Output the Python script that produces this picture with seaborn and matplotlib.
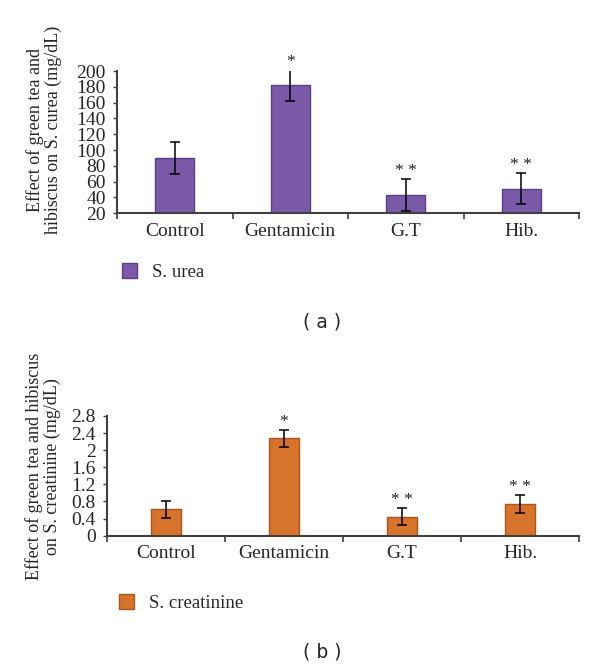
import matplotlib
matplotlib.use("Agg")
import matplotlib.pyplot as plt
import seaborn as sns
import pandas as pd
from matplotlib.patches import Patch

# ---- data ----
categories = ["Control", "Gentamicin", "G.T", "Hib."]
urea_values = [90, 182, 43, 51]
urea_errors = [20, 20, 20, 20]
urea_marks = ["", "*", "* *", "* *"]
creat_values = [0.62, 2.28, 0.44, 0.74]
creat_errors = [0.2, 0.2, 0.2, 0.2]
creat_marks = ["", "*", "* *", "* *"]
urea_ticks = [20, 40, 60, 80, 100, 120, 140, 160, 180, 200]
creat_ticks = [0, 0.4, 0.8, 1.2, 1.6, 2, 2.4, 2.8]
creat_ticklabels = ["0", "0.4", "0.8", "1.2", "1.6", "2", "2.4", "2.8"]

sns.set_theme(style="white")
plt.rcParams["font.family"] = ["Liberation Serif", "DejaVu Serif"]

PURPLE = "#7A5AA8"
PURPLE_EDGE = "#5B3E8A"
ORANGE = "#D8732B"
ORANGE_EDGE = "#A9561C"
SPINE = "#404040"

fig = plt.figure(figsize=(6.0, 6.66), dpi=100)
ax1 = fig.add_axes([0.195, 0.680, 0.770, 0.2132])
ax2 = fig.add_axes([0.178, 0.1957, 0.787, 0.1797])


def draw(ax, values, errors, marks, color, edge, width, ylim, ticks, ticklabels,
         ylabel, star_off, label_xy):
    df = pd.DataFrame({"cat": categories, "val": values})
    sns.barplot(data=df, x="cat", y="val", color=color, width=width,
                edgecolor=edge, linewidth=1.0, saturation=1, ax=ax, errorbar=None)
    ax.errorbar(range(len(categories)), values, yerr=errors, fmt="none",
                ecolor="black", elinewidth=1.1, capsize=3.5, capthick=1.1, zorder=5)
    for i, (v, e, m) in enumerate(zip(values, errors, marks)):
        if m:
            ax.text(i, v + e + star_off, m, ha="center", va="bottom",
                    fontsize=12.5, color="#222222")
    ax.set_xlim(-0.5, len(categories) - 0.5)
    ax.set_ylim(*ylim)
    ax.set_yticks(ticks)
    ax.set_yticklabels(ticklabels, fontsize=14)
    ax.set_xticks([-0.5, 0.5, 1.5, 2.5, 3.5], minor=False)
    ax.set_xticklabels([])
    ax.set_xticks(range(len(categories)), minor=True)
    ax.set_xticklabels(categories, minor=True, fontsize=14)
    ax.tick_params(axis="x", which="major", direction="out", length=4,
                   width=1.2, color=SPINE, bottom=True)
    ax.tick_params(axis="x", which="minor", length=0, pad=7, bottom=True)
    ax.tick_params(axis="y", direction="out", length=3, width=1.0,
                   color=SPINE, left=True, pad=5)
    ax.set_xlabel("")
    ax.set_ylabel(ylabel, fontsize=13, linespacing=1.0)
    ax.yaxis.set_label_coords(*label_xy)
    for s in ["top", "right"]:
        ax.spines[s].set_visible(False)
    for s in ["left", "bottom"]:
        ax.spines[s].set_color(SPINE)
        ax.spines[s].set_linewidth(1.5)
    ax.set_facecolor("white")


draw(ax1, urea_values, urea_errors, urea_marks, PURPLE, PURPLE_EDGE, 0.34,
     (20, 200), urea_ticks, [str(t) for t in urea_ticks],
     "Effect of green tea and\nhibiscus on S. curea (mg/dL)", 0, (-0.12, 0.585))
draw(ax2, creat_values, creat_errors, creat_marks, ORANGE, ORANGE_EDGE, 0.25,
     (0, 2.8), creat_ticks, creat_ticklabels,
     "Effect of green tea and hibiscus\non S. creatinine (mg/dL)", 0, (-0.098, 0.58))

ax1.legend(handles=[Patch(facecolor=PURPLE, edgecolor=PURPLE_EDGE, label="S. urea")],
           loc="center left", bbox_to_anchor=(0.175, 1 - 272 / 666),
           bbox_transform=fig.transFigure, frameon=False, fontsize=13.5,
           handlelength=0.8, handleheight=0.8, handletextpad=0.8)
ax2.legend(handles=[Patch(facecolor=ORANGE, edgecolor=ORANGE_EDGE, label="S. creatinine")],
           loc="center left", bbox_to_anchor=(0.170, 1 - 603 / 666),
           bbox_transform=fig.transFigure, frameon=False, fontsize=13.5,
           handlelength=0.8, handleheight=0.8, handletextpad=0.8)

fig.text(322 / 600, 1 - 322 / 666, "( a )", ha="center", va="center",
         fontsize=13.5, family=["DejaVu Sans"])
fig.text(322 / 600, 1 - 652 / 666, "( b )", ha="center", va="center",
         fontsize=13.5, family=["DejaVu Sans"])

fig.savefig("out.png", dpi=100, facecolor="white")
